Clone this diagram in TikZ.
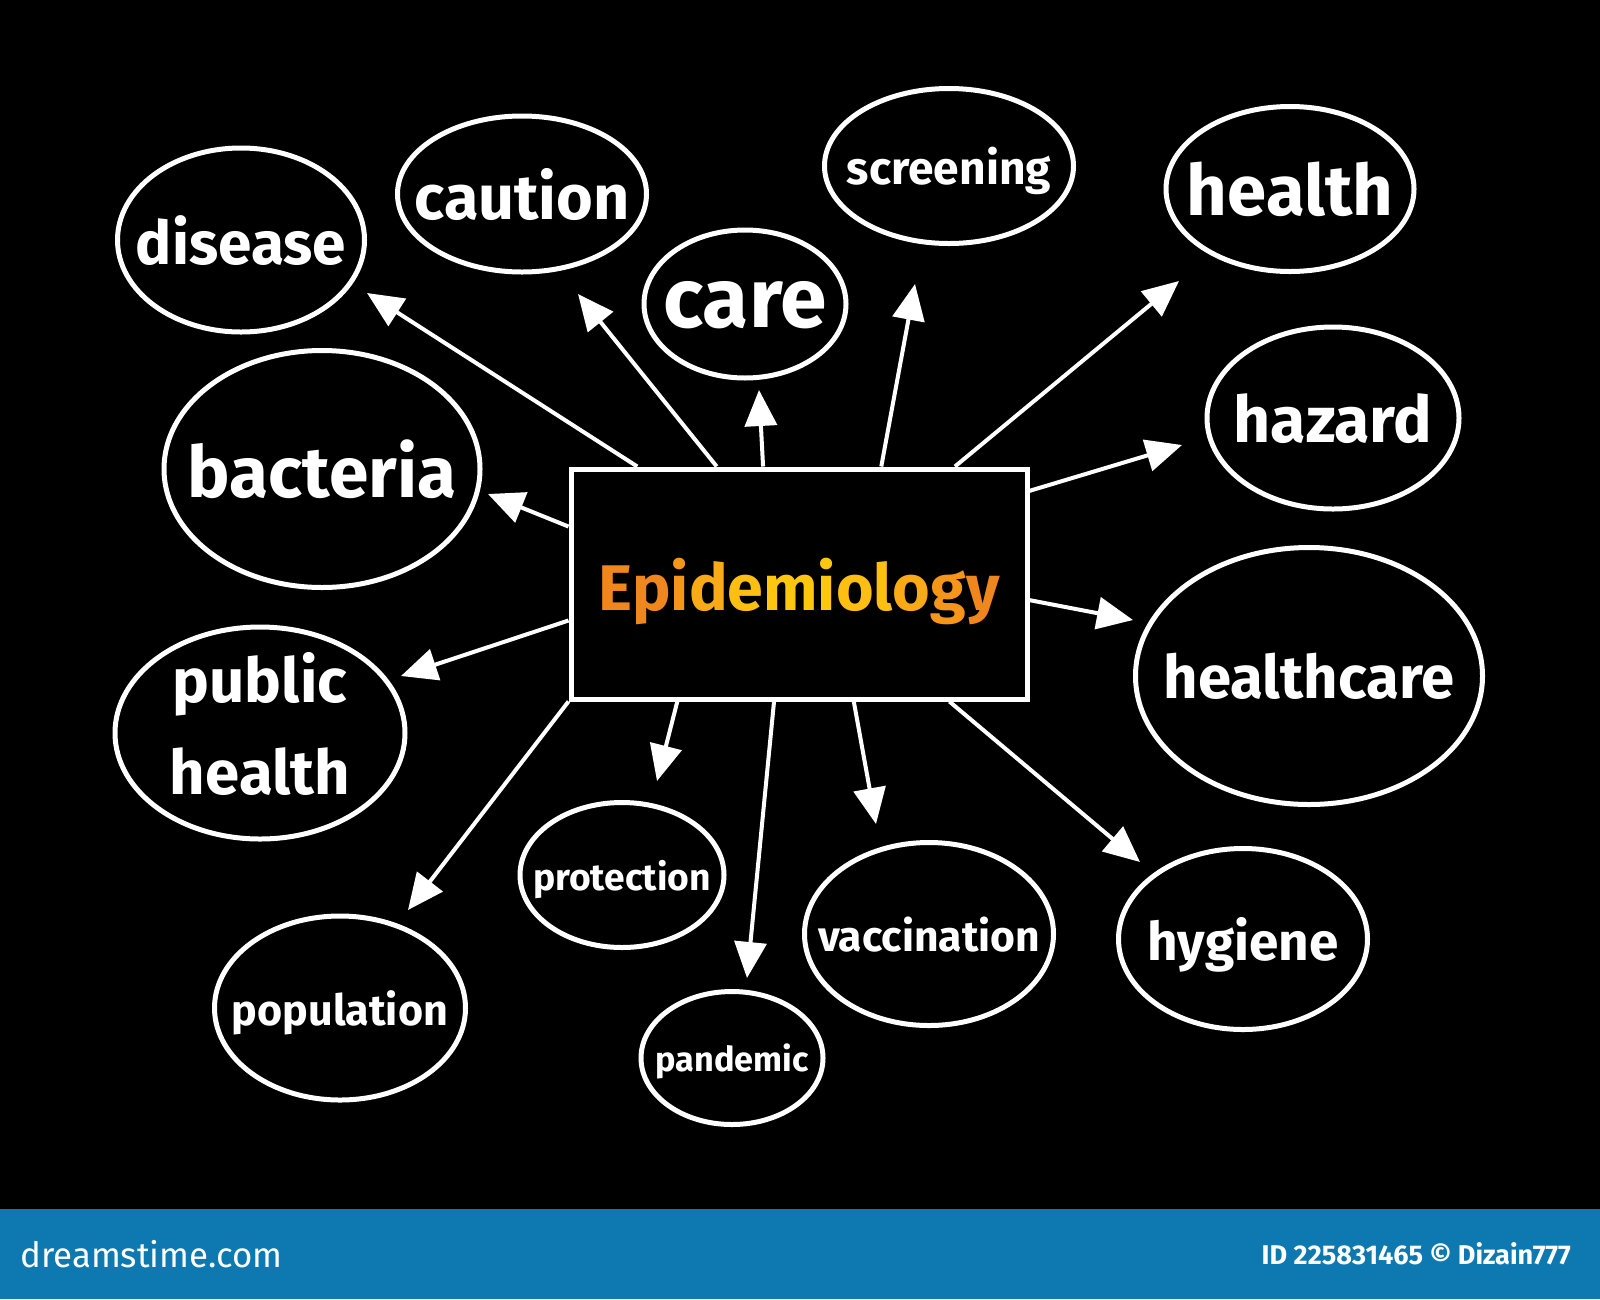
\documentclass[tikz,border=0pt]{standalone}
\usepackage{fontspec}
\setmainfont{Fira Sans}
\usetikzlibrary{arrows.meta,shapes.geometric}
\definecolor{barblue}{RGB}{14,120,176}
\definecolor{oA}{RGB}{240,135,30}
\definecolor{oB}{RGB}{245,150,26}
\definecolor{oC}{RGB}{250,170,22}
\definecolor{oD}{RGB}{254,190,18}
\definecolor{oE}{RGB}{255,198,16}
\newcommand{\zbox}[1]{\makebox[0pt]{\raisebox{-.5\height}[0pt][0pt]{#1}}}
\newcommand{\lbl}[2]{\zbox{\resizebox{#1}{!}{\bfseries #2}}}
\begin{document}
\begin{tikzpicture}[x=1pt,y=-1pt,
  bubble/.style={draw=white,line width=5pt,ellipse,inner sep=0pt,text=white},
  centerbox/.style={draw=white,line width=5pt,rectangle,inner sep=0pt,minimum width=456pt,minimum height=230pt},
  conn/.style={draw=white,line width=4pt,-{Triangle[length=36pt,width=32pt,fill=white]}}]
\fill[black] (0,0) rectangle (1600,1299);
\fill[barblue] (0,1209) rectangle (1600,1299);
\useasboundingbox (0,0) rectangle (1600,1299);

% center
\node[centerbox] (box) at (799,584) {\zbox{\resizebox{401pt}{!}{\bfseries
  \textcolor{oA}{E}\textcolor{oA}{p}\textcolor{oB}{i}\textcolor{oC}{d}\textcolor{oD}{e}\textcolor{oE}{m}\textcolor{oE}{i}\textcolor{oD}{o}\textcolor{oD}{l}\textcolor{oC}{o}\textcolor{oB}{g}\textcolor{oA}{y}}}};

% bubbles
\node[bubble,minimum width=247pt,minimum height=184pt] (disease) at (241,240) {\lbl{210pt}{disease}};
\node[bubble,minimum width=249pt,minimum height=156pt] (caution) at (522,194) {\lbl{215pt}{caution}};
\node[bubble,minimum width=202pt,minimum height=148pt] (care) at (745,304) {\lbl{163pt}{care}};
\node[bubble,minimum width=249pt,minimum height=155pt] (screening) at (949,166) {\lbl{204pt}{screening}};
\node[bubble,minimum width=248pt,minimum height=165pt] (health) at (1290,189) {\lbl{206pt}{health}};
\node[bubble,minimum width=252pt,minimum height=182pt] (hazard) at (1333,418) {\lbl{199pt}{hazard}};
\node[bubble,minimum width=347pt,minimum height=257pt] (healthcare) at (1309,676) {\lbl{291pt}{healthcare}};
\node[bubble,minimum width=249pt,minimum height=181pt] (hygiene) at (1243,939) {\lbl{191pt}{hygiene}};
\node[bubble,minimum width=249pt,minimum height=183pt] (vaccination) at (929,934) {\lbl{222pt}{vaccination}};
\node[bubble,minimum width=182pt,minimum height=133pt] (pandemic) at (732,1058) {\lbl{153pt}{pandemic}};
\node[bubble,minimum width=204pt,minimum height=145pt] (protection) at (622,875) {\lbl{178pt}{protection}};
\node[bubble,minimum width=251pt,minimum height=184pt] (population) at (340,1008) {\lbl{216pt}{population}};
\node[bubble,minimum width=290pt,minimum height=212pt] (publichealth) at (260,733) {\makebox[0pt]{\raisebox{-16pt}[0pt][0pt]{\resizebox{180pt}{!}{\bfseries\begin{tabular}{@{}c@{}}public\\[3pt]health\end{tabular}}}}};
\node[bubble,minimum width=316pt,minimum height=237pt] (bacteria) at (322,469) {\lbl{268pt}{bacteria}};

% arrow tips (free ends)
\coordinate (tdisease) at (367,293);
\coordinate (tcaution) at (578,294);
\coordinate (tcare) at (759,390);
\coordinate (tscreening) at (915,284);
\coordinate (thealth) at (1179,281);
\coordinate (thazard) at (1182,445);
\coordinate (thealthcare) at (1133,620);
\coordinate (thygiene) at (1140,862);
\coordinate (tvaccination) at (876,824);
\coordinate (tpandemic) at (747,978);
\coordinate (tprotection) at (657,781);
\coordinate (tpopulation) at (408,910);
\coordinate (tpublichealth) at (401,676);
\coordinate (tbacteria) at (488,494);

\draw[conn] (box.144) -- (tdisease);
\draw[conn] (box.125) -- (tcaution);
\draw[conn] (box.107) -- (tcare);
\draw[conn] (box.55) -- (tscreening);
\draw[conn] (box.37) -- (thealth);
\draw[conn] (box.22) -- (thazard);
\draw[conn] (box.-4) -- (thealthcare);
\draw[conn] (box.-38) -- (thygiene);
\draw[conn] (box.-65) -- (tvaccination);
\draw[conn] (box.-102) -- (tpandemic);
\draw[conn] (box.224) -- (tprotection);
\draw[conn] (box.207) -- (tpopulation);
\draw[conn] (box.189) -- (tpublichealth);
\draw[conn] (box.166) -- (tbacteria);

% footer
\node[anchor=west,text=white,inner sep=0pt] (brand) at (20,1254) {\resizebox{262pt}{!}{dreamstime.com}};
\node[anchor=east,text=white,inner sep=0pt] (credit) at (1571,1254) {\resizebox{309pt}{!}{\bfseries ID 225831465 © Dizain777}};
\end{tikzpicture}
\end{document}
